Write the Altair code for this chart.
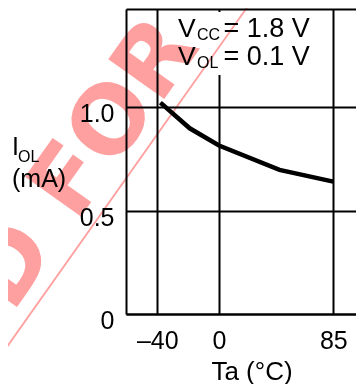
import json
import altair as alt
import pandas as pd

# ---- data ----
TEMP_C = [-38, -19, 0, 45, 85]
IOL_MA = [1.022, 0.898, 0.815, 0.697, 0.640]

X_TICKS = [-40, 0, 85]
X_TICK_LABELS = ["\u201340", "0", "85"]
Y_TICKS = [0, 0.5, 1.0]
Y_TICK_LABELS = ["0", "0.5", "1.0"]

X_DOMAIN = [-60.3, 0, 85, 101.9]   # piecewise (non-uniform) temperature axis
Y_MAX = 1.475

X_TITLE = "Ta (\u00b0C)"
Y_TITLE = ("I", "OL", "(mA)")
COND_LINES = [("V", "CC", "= 1.8 V"), ("V", "OL", "= 0.1 V")]
WATERMARK = "NOT RECOMMENDED FOR"

# ---- layout / style ----
W, H = 230, 305
FONT = "Liberation Sans"
FS = 25
PINK = "#ffa0a0"

df = pd.DataFrame({"t": TEMP_C, "i": IOL_MA})
one = pd.DataFrame({"k": [0]})


def lab_expr(vals, labels):
    v = json.dumps(vals)
    l = json.dumps(labels, ensure_ascii=False)
    return f"indexof({v}, datum.value) < 0 ? '' : {l}[indexof({v}, datum.value)]"


x_axis = alt.Axis(
    values=X_TICKS, labelExpr=lab_expr(X_TICKS, X_TICK_LABELS),
    grid=True, gridColor="black", gridWidth=2, gridOpacity=1,
    domain=True, domainColor="black", domainWidth=2,
    ticks=False, tickSize=0, labelFlush=False, labelOverlap=False,
    labelFont=FONT, labelFontSize=FS, labelColor="black",
    labelPadding=34, labelBaseline="alphabetic",
    title=X_TITLE, titleFont=FONT, titleFontSize=26, titleFontWeight="normal",
    titleColor="black", titleBaseline="alphabetic", titleAlign="center",
    titleX=125.5, titleY=65,
)
y_axis = alt.Axis(
    values=Y_TICKS + [Y_MAX], labelExpr=lab_expr(Y_TICKS, Y_TICK_LABELS),
    grid=True, gridColor="black", gridWidth=2, gridOpacity=1,
    domain=True, domainColor="black", domainWidth=2,
    ticks=False, tickSize=0, labelFlush=False, labelOverlap=False,
    labelFont=FONT, labelFontSize=FS, labelColor="black",
    labelPadding=12, labelAlign="right", labelBaseline="alphabetic",
    labelOffset=14.5, title=None,
)

x_enc = alt.X("t:Q", scale=alt.Scale(domain=X_DOMAIN, range=[0, 93, 207.3, W],
                                     nice=False, zero=False), axis=x_axis)
y_enc = alt.Y("i:Q", scale=alt.Scale(domain=[0, Y_MAX], nice=False, zero=False),
              axis=y_axis)

curve = alt.Chart(df).mark_line(color="black", strokeWidth=4.5, strokeCap="butt").encode(
    x=x_enc, y=y_enc)


def txt(text, x, y, size, **kw):
    return alt.Chart(one).mark_text(
        text=text, align=kw.pop("align", "left"), baseline="alphabetic",
        font=kw.pop("font", FONT), fontSize=size, color=kw.pop("color", "black"), **kw
    ).encode(x=alt.value(x), y=alt.value(y))


box = alt.Chart(one).mark_rect(color="white").encode(
    x=alt.value(42), x2=alt.value(194), y=alt.value(3), y2=alt.value(66))

layers = [curve, box]

# y-axis title with subscript
layers += [
    txt(Y_TITLE[0], -114, 146, FS),
    txt(Y_TITLE[1], -108, 152.7, 16),
    txt(Y_TITLE[2], -114, 178, FS),
]

# condition annotation
for (base, sub, rest), yb in zip(COND_LINES, [27.7, 56]):
    layers += [
        txt(base, 52, yb, 26.5),
        txt(sub, 71, yb + 3.3, 16),
        txt(rest, 97.5, yb, 27),
    ]

# watermark
layers += [
    txt(WATERMARK, 75, 37.8, 94, align="right", font="DejaVu Sans",
        fontWeight="bold", angle=305.3, color=PINK, blend="multiply"),
    alt.Chart(one).mark_rule(color=PINK, strokeWidth=1.8, blend="multiply").encode(
        x=alt.value(-126), y=alt.value(347.7), x2=alt.value(126.3), y2=alt.value(-9)),
]

chart = alt.layer(*layers).properties(
    width=W, height=H,
    padding={"left": 118, "top": 1, "right": 0, "bottom": 70},
    autosize=alt.AutoSizeParams(type="none"),
).configure_view(stroke=None)

chart.save("out.html", embed_options={"renderer": "svg", "actions": False})
